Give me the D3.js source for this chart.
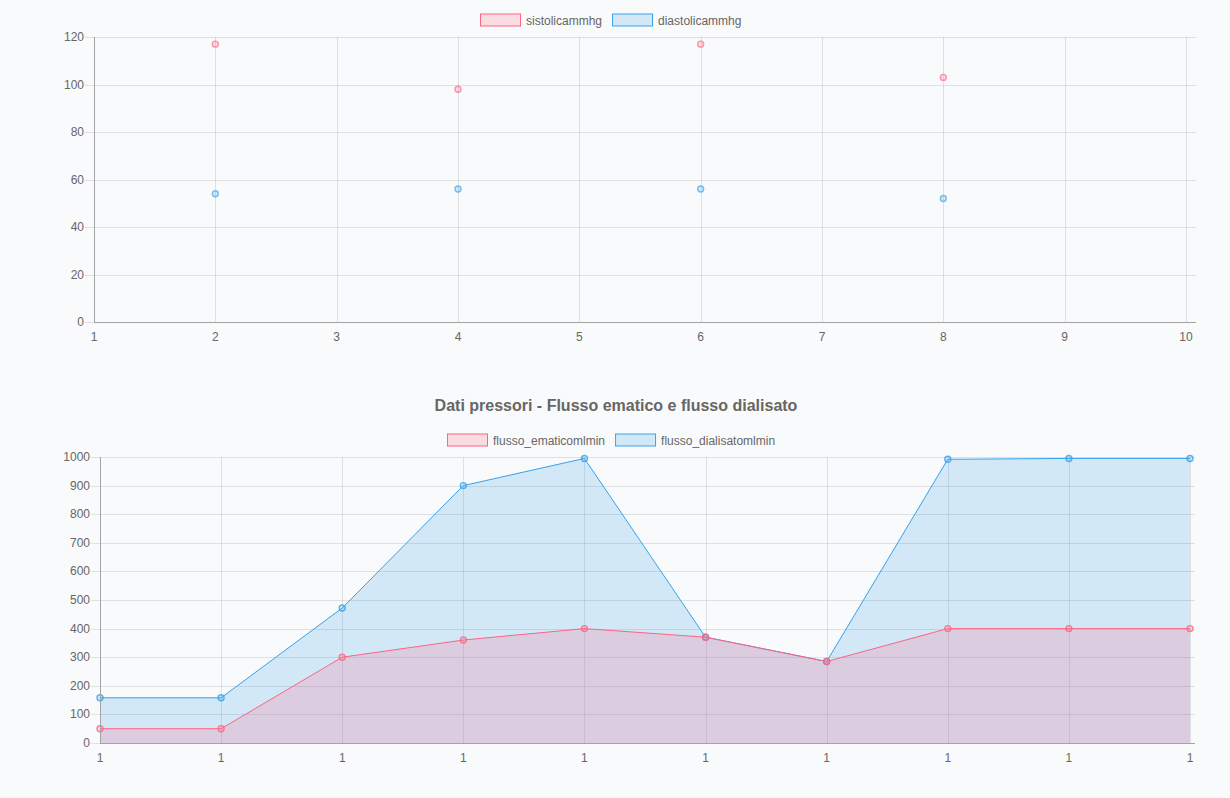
<!DOCTYPE html>
<html>
<head>
<meta charset="utf-8">
<script src="https://cdn.jsdelivr.net/npm/d3@7"></script>
<style>
    body { margin: 0; background: #f9fafb; }
    svg { display: block; font-family: "Liberation Sans", Arial, sans-serif; }
</style>
</head>
<body>
<div id="charts"></div>
<script>
// pressure chart (scatter)
const pressX = [2, 4, 6, 8];
const sistolica = [117, 98, 117, 103];
const diastolica = [54, 56, 56, 52];
const pressXTicks = [1, 2, 3, 4, 5, 6, 7, 8, 9, 10];
const pressYTicks = [0, 20, 40, 60, 80, 100, 120];

// flow chart (areas)
const flowLabels = ["1", "1", "1", "1", "1", "1", "1", "1", "1", "1"];
const flussoEmatico = [50, 50, 300, 360, 400, 370, 285, 400, 400, 400];
const flussoDialisato = [158, 158, 472, 900, 995, 370, 285, 992, 995, 995];
const flowYTicks = [0, 100, 200, 300, 400, 500, 600, 700, 800, 900, 1000];

const red = "rgb(255,99,132)", redFill = "rgba(255,99,132,0.2)";
const blue = "rgb(54,162,235)", blueFill = "rgba(54,162,235,0.2)";
const grid = "rgba(0,0,0,0.1)", axisCol = "#a3a3a3", txt = "#666";

const svg = d3.select("#charts").append("svg").attr("width", 1230).attr("height", 798);

function legend(items, cy, cx) {
    // measure text to center like chart.js does
    let g = svg.append("g");
    let x = 0;
    items.forEach(it => {
        let item = g.append("g").attr("transform", `translate(${x},0)`);
        item.append("rect").attr("x", 0.5).attr("y", cy - 6).attr("width", 40).attr("height", 12)
            .attr("fill", it.fill).attr("stroke", it.stroke).attr("stroke-width", 1);
        let t = item.append("text").attr("x", 46).attr("y", cy + 4.5)
            .attr("font-size", 12).attr("fill", txt).text(it.name);
        x += 46 + t.node().getComputedTextLength() + 10;
    });
    let w = x - 10;
    g.attr("transform", `translate(${Math.round(cx - w / 2)},0)`);
}

function yAxisGrid(y, ticks, left, right) {
    let g = svg.append("g");
    ticks.forEach(v => {
        g.append("line").attr("x1", left - 9).attr("x2", right)
            .attr("y1", Math.round(y(v)) + 0.5).attr("y2", Math.round(y(v)) + 0.5)
            .attr("stroke", grid);
        g.append("text").attr("x", left - 10).attr("y", y(v) + 4).attr("text-anchor", "end")
            .attr("font-size", 12).attr("fill", txt).text(v);
    });
}

// ---------- top chart ----------
{
    const left = 94, right = 1196, top = 37, bottom = 322;
    const x = d3.scaleLinear().domain([1, 10]).range([left, 1186]);
    const y = d3.scaleLinear().domain([0, 120]).range([bottom, top]);

    legend([{name: "sistolicammhg", fill: redFill, stroke: red},
            {name: "diastolicammhg", fill: blueFill, stroke: blue}], 20, 611);

    yAxisGrid(y, pressYTicks, left, right);
    pressXTicks.forEach(v => {
        let px = Math.round(x(v)) + 0.5;
        svg.append("line").attr("x1", px).attr("x2", px).attr("y1", top).attr("y2", bottom)
            .attr("stroke", grid);
        svg.append("text").attr("x", x(v)).attr("y", bottom + 19).attr("text-anchor", "middle")
            .attr("font-size", 12).attr("fill", txt).text(v);
    });
    svg.append("line").attr("x1", left + 0.5).attr("x2", left + 0.5).attr("y1", top).attr("y2", bottom).attr("stroke", axisCol);
    svg.append("line").attr("x1", left).attr("x2", right).attr("y1", bottom + 0.5).attr("y2", bottom + 0.5).attr("stroke", axisCol);

    [[sistolica, red, redFill], [diastolica, blue, blueFill]].forEach(([vals, c, f]) => {
        svg.append("g").selectAll("circle").data(vals).join("circle")
            .attr("cx", (d, i) => x(pressX[i])).attr("cy", d => y(d)).attr("r", 3)
            .attr("fill", f).attr("stroke", c).attr("stroke-opacity", 0.65).attr("stroke-width", 1.4);
    });
}

// ---------- bottom chart ----------
{
    const left = 100, right = 1195, top = 457, bottom = 743;
    const x = d3.scalePoint().domain(d3.range(flowLabels.length)).range([left, 1190]);
    const y = d3.scaleLinear().domain([0, 1000]).range([bottom, top]);

    svg.append("text").attr("x", 616).attr("y", 411).attr("text-anchor", "middle")
        .attr("font-size", 16).attr("font-weight", "bold").attr("fill", txt)
        .text("Dati pressori - Flusso ematico e flusso dialisato");

    legend([{name: "flusso_ematicomlmin", fill: redFill, stroke: red},
            {name: "flusso_dialisatomlmin", fill: blueFill, stroke: blue}], 440, 611);

    yAxisGrid(y, flowYTicks, left, right);
    flowLabels.forEach((lab, i) => {
        let px = Math.round(x(i)) + 0.5;
        svg.append("line").attr("x1", px).attr("x2", px).attr("y1", top).attr("y2", bottom)
            .attr("stroke", grid);
        svg.append("text").attr("x", x(i)).attr("y", bottom + 19).attr("text-anchor", "middle")
            .attr("font-size", 12).attr("fill", txt).text(lab);
    });

    // dataset 0 (red) drawn last, on top, like chart.js
    [[flussoDialisato, blue, blueFill], [flussoEmatico, red, redFill]].forEach(([vals, c, f]) => {
        const area = d3.area().x((d, i) => x(i)).y0(y(0)).y1(d => y(d));
        const line = d3.line().x((d, i) => x(i)).y(d => y(d));
        svg.append("path").datum(vals).attr("d", area).attr("fill", f);
        svg.append("path").datum(vals).attr("d", line).attr("fill", "none")
            .attr("stroke", c).attr("stroke-width", 1);
        svg.append("g").selectAll("circle").data(vals).join("circle")
            .attr("cx", (d, i) => x(i)).attr("cy", d => y(d)).attr("r", 3)
            .attr("fill", f).attr("stroke", c).attr("stroke-opacity", 0.8).attr("stroke-width", 1.4);
    });

    svg.append("line").attr("x1", left + 0.5).attr("x2", left + 0.5).attr("y1", top).attr("y2", bottom).attr("stroke", axisCol);
    svg.append("line").attr("x1", left).attr("x2", right).attr("y1", bottom + 0.5).attr("y2", bottom + 0.5).attr("stroke", axisCol);
}
</script>
</body>
</html>
